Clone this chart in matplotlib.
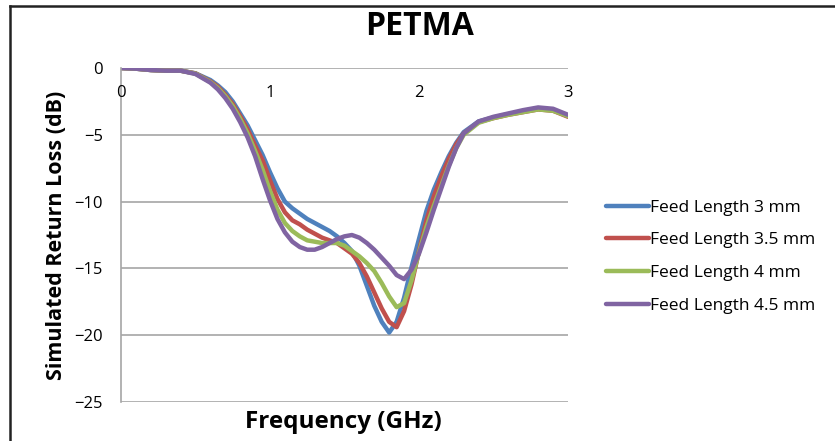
import numpy as np
import matplotlib.pyplot as plt
from matplotlib.lines import Line2D

plt.rcParams['font.family'] = ['Open Sans', 'DejaVu Sans']

# Frecuencia (GHz) y pérdida de retorno simulada (dB) para cada longitud de alimentación
freq = [0, 0.1, 0.2, 0.3, 0.4, 0.5, 0.6, 0.65, 0.7, 0.75, 0.8, 0.85, 0.9, 0.95,
        1.0, 1.05, 1.1, 1.15, 1.2, 1.25, 1.3, 1.35, 1.4, 1.45, 1.5, 1.55, 1.6,
        1.65, 1.7, 1.75, 1.8, 1.85, 1.9, 1.95, 2.0, 2.05, 2.1, 2.15, 2.2, 2.25,
        2.3, 2.4, 2.5, 2.6, 2.7, 2.8, 2.9, 3.0]

rl_3mm = [0, -0.05, -0.15, -0.2, -0.2, -0.4, -0.9, -1.3, -1.8, -2.5, -3.4, -4.3,
          -5.4, -6.5, -7.8, -9.0, -10.0, -10.5, -10.9, -11.3, -11.6, -11.9, -12.2,
          -12.6, -13.1, -13.7, -14.8, -16.3, -17.8, -19.0, -19.8, -19.0, -17.2,
          -14.9, -12.8, -10.7, -9.1, -7.8, -6.6, -5.6, -4.8, -4.0, -3.7, -3.45,
          -3.25, -3.05, -3.15, -3.6]

rl_3_5mm = [0, -0.05, -0.15, -0.2, -0.2, -0.4, -1.0, -1.4, -2.0, -2.7, -3.6, -4.6,
            -5.8, -6.9, -8.4, -9.8, -10.8, -11.4, -11.7, -12.1, -12.4, -12.7, -12.9,
            -13.1, -13.5, -13.9, -14.6, -15.6, -16.8, -18.0, -19.0, -19.4, -18.2,
            -16.2, -13.7, -11.4, -9.6, -8.1, -6.8, -5.7, -4.9, -4.05, -3.75, -3.5,
            -3.3, -3.1, -3.2, -3.65]

rl_4mm = [0, -0.05, -0.15, -0.2, -0.2, -0.42, -1.05, -1.5, -2.1, -2.85, -3.8, -4.9,
          -6.2, -7.6, -9.2, -10.6, -11.6, -12.2, -12.6, -12.9, -13.0, -13.1, -13.1,
          -13.1, -13.3, -13.7, -14.1, -14.6, -15.2, -16.1, -17.1, -17.9, -17.6,
          -15.9, -13.8, -11.9, -10.3, -8.8, -7.3, -6.0, -5.0, -4.1, -3.75, -3.5,
          -3.3, -3.1, -3.2, -3.6]

rl_4_5mm = [0, -0.05, -0.15, -0.2, -0.2, -0.45, -1.1, -1.6, -2.25, -3.05, -4.05, -5.2,
            -6.6, -8.3, -9.9, -11.3, -12.3, -13.0, -13.4, -13.6, -13.6, -13.4, -13.1,
            -12.8, -12.6, -12.5, -12.7, -13.1, -13.6, -14.2, -14.8, -15.5, -15.8,
            -15.1, -13.9, -12.3, -10.6, -9.0, -7.4, -6.0, -4.9, -4.0, -3.65, -3.4,
            -3.15, -2.95, -3.05, -3.5]

etiquetas = ['Feed Length 3 mm', 'Feed Length 3.5 mm', 'Feed Length 4 mm', 'Feed Length 4.5 mm']
colores = ['#4F81BD', '#C0504D', '#9BBB59', '#8064A2']

fig = plt.figure(figsize=(8.35, 4.41), dpi=100)
ax = fig.add_axes([0.1449, 0.0884, 0.5353, 0.7574])

for serie, color, etiqueta in zip([rl_3mm, rl_3_5mm, rl_4mm, rl_4_5mm], colores, etiquetas):
    ax.plot(freq, serie, color=color, lw=3.2, label=etiqueta, solid_capstyle='round')

ax.set_xlim(0, 3)
ax.set_ylim(-25, 0)
ax.set_yticks([0, -5, -10, -15, -20, -25])
ax.set_xticks([0, 1, 2, 3])
ax.grid(axis='y', color='#A6A6A6', lw=1.2)
ax.set_axisbelow(True)

# eje x cruzando en 0 dB, etiquetas justo debajo
for lado in ['top', 'right', 'bottom']:
    ax.spines[lado].set_visible(False)
ax.spines['left'].set_color('#A6A6A6')
ax.spines['left'].set_linewidth(1.2)
ax.xaxis.set_ticks_position('top')
ax.tick_params(axis='x', length=0, labeltop=False, labelbottom=False)
for x in [0, 1, 2, 3]:
    ax.annotate(str(x), xy=(x, 0), xytext=(0, -25), textcoords='offset pixels',
                ha='center', va='center', fontsize=12)
ax.tick_params(axis='y', length=0, pad=13, labelsize=12)

ax.set_ylabel('Simulated Return Loss (dB)', fontsize=15.5, fontweight='bold', labelpad=5)
fig.text(0.411, 0.043, 'Frequency (GHz)', ha='center', va='center',
         fontsize=17.5, fontweight='bold')
fig.text(0.503, 0.94, 'PETMA', ha='center', va='center', fontsize=23, fontweight='bold')

ax.legend(loc='center left', bbox_to_anchor=(0.717, 0.418), bbox_transform=fig.transFigure,
          frameon=False, fontsize=12.5, handlelength=2.5, handletextpad=0.05,
          labelspacing=0.95, borderaxespad=0)

# marco exterior (sólo arriba e izquierda)
fig.add_artist(Line2D([10 / 835, 1], [1 - 6 / 441, 1 - 6 / 441], color='#222222', lw=1.8,
                      transform=fig.transFigure))
fig.add_artist(Line2D([10 / 835, 10 / 835], [0, 1 - 6 / 441], color='#222222', lw=1.8,
                      transform=fig.transFigure))

fig.savefig('out.png', dpi=100)
